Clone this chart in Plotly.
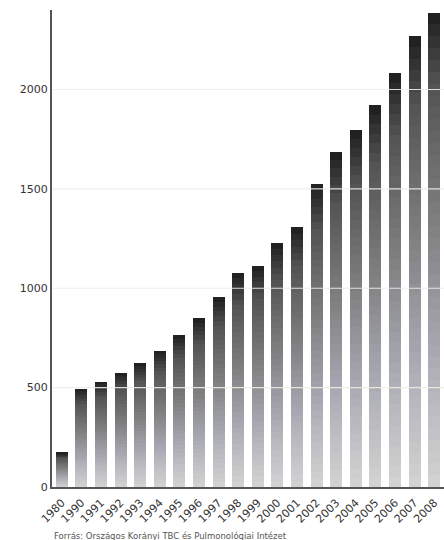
import plotly.graph_objects as go

years = ["1980", "1990", "1991", "1992", "1993", "1994", "1995", "1996", "1997", "1998",
         "1999", "2000", "2001", "2002", "2003", "2004", "2005", "2006", "2007", "2008"]
values = [173, 494, 530, 575, 626, 685, 765, 848, 955, 1077,
          1113, 1227, 1306, 1525, 1688, 1794, 1921, 2084, 2269, 2387]
grid_values = [500, 1000, 1500, 2000]
y_ticks = [0, 500, 1000, 1500, 2000]
source_text = "Forrás: Országos Korányi TBC és Pulmonológiai Intézet"

N = 40


def shade(t):
    # t: 0 at bar bottom, 1 at bar top
    if t < 0.85:
        L = 212 - 152 * t
    else:
        L = 83 - (83 - 28) * ((t - 0.85) / 0.15)
    tint = 10 * max(0.0, 1 - abs(t - 0.3) / 0.3)
    r = round(L)
    g = round(L)
    b = round(min(255, L + tint))
    return f"rgb({r},{g},{b})"


fig = go.Figure()
for k in range(N):
    t = (k + 0.5) / N
    fig.add_trace(go.Bar(
        x=years,
        y=[v / N for v in values],
        marker=dict(color=shade(t), line=dict(width=0)),
        hoverinfo="skip",
        showlegend=False,
    ))

for gv in grid_values:
    fig.add_shape(type="line", xref="paper", yref="y", x0=0, x1=1, y0=gv, y1=gv,
                  line=dict(color="rgba(236,238,228,0.9)", width=1.2), layer="above")

fig.add_annotation(text=source_text, xref="paper", yref="paper", x=0, y=-0.103,
                   xanchor="left", yanchor="middle", showarrow=False,
                   font=dict(family="DejaVu Sans", size=8.5, color="#555555"))

fig.update_layout(
    width=444, height=540,
    margin=dict(l=52, r=0, t=10, b=53),
    barmode="stack",
    bargap=0.38,
    paper_bgcolor="white",
    plot_bgcolor="white",
    font=dict(family="DejaVu Sans", size=11, color="#333333"),
    xaxis=dict(type="category", tickangle=-45, showline=True, linecolor="#555555",
               linewidth=2, showgrid=False, ticks="", ticklabelstandoff=3,
               tickfont=dict(size=11, color="#333333")),
    yaxis=dict(range=[0, 2400], tickvals=y_ticks, showline=True, linecolor="#555555",
               linewidth=2, showgrid=False, zeroline=False, ticks="",
               tickfont=dict(size=11, color="#333333")),
)

fig.write_html("out.html")
